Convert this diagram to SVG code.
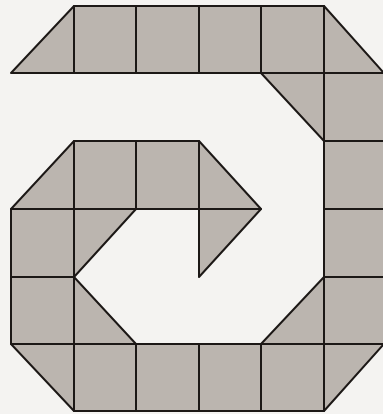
<svg xmlns="http://www.w3.org/2000/svg" width="383" height="414" viewBox="0 0 383 414">
<style>
.t{fill:#bbb5af;stroke:#1c1816;stroke-width:2;stroke-linejoin:round}
</style>
<rect width="383" height="414" fill="#f4f3f1"/>
<g id="spiral">
<!-- row 0 -->
<polygon class="t" points="74,6 74,73 11,73"/>
<rect class="t" x="74" y="6" width="62" height="67"/>
<rect class="t" x="136" y="6" width="63" height="67"/>
<rect class="t" x="199" y="6" width="62" height="67"/>
<rect class="t" x="261" y="6" width="63" height="67"/>
<polygon class="t" points="324,6 384,73 324,73"/>
<!-- row 1 -->
<polygon class="t" points="261,73 324,73 324,141"/>
<rect class="t" x="324" y="73" width="62" height="68"/>
<!-- row 2 -->
<polygon class="t" points="74,141 74,209 11,209"/>
<rect class="t" x="74" y="141" width="62" height="68"/>
<rect class="t" x="136" y="141" width="63" height="68"/>
<polygon class="t" points="199,141 261,209 199,209"/>
<rect class="t" x="324" y="141" width="62" height="68"/>
<!-- row 3 -->
<rect class="t" x="11" y="209" width="63" height="68"/>
<polygon class="t" points="74,209 136,209 74,277"/>
<polygon class="t" points="199,209 261,209 199,277"/>
<rect class="t" x="324" y="209" width="62" height="68"/>
<!-- row 4 -->
<rect class="t" x="11" y="277" width="63" height="67"/>
<polygon class="t" points="74,277 136,344 74,344"/>
<polygon class="t" points="324,277 324,344 261,344"/>
<rect class="t" x="324" y="277" width="62" height="67"/>
<!-- row 5 -->
<polygon class="t" points="11,344 74,344 74,411"/>
<rect class="t" x="74" y="344" width="62" height="67"/>
<rect class="t" x="136" y="344" width="63" height="67"/>
<rect class="t" x="199" y="344" width="62" height="67"/>
<rect class="t" x="261" y="344" width="63" height="67"/>
<polygon class="t" points="324,344 384,344 324,411"/>
</g>
</svg>
